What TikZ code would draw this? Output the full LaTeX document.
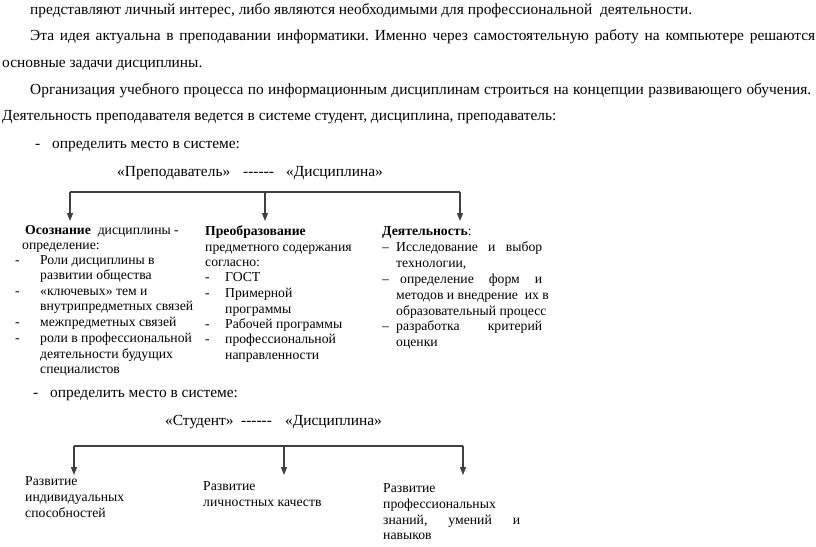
\documentclass[tikz,border=0pt]{standalone}
\usepackage{fontspec}
\setmainfont{Liberation Serif}
\usetikzlibrary{arrows.meta}
\frenchspacing
\begin{document}
\begin{tikzpicture}[x=1pt,y=-1pt,
  main/.style={inner sep=0pt,anchor=mid west,font=\fontsize{15.4}{18}\selectfont},
  small/.style={inner sep=0pt,anchor=mid west,font=\fontsize{13.7}{16}\selectfont},
  conn/.style={draw=black!75,line width=1.1pt},
  arr/.style={conn,-{Triangle[length=8pt,width=6pt]}}]
\useasboundingbox (0,0) rectangle (816,546);
% main text
\node[main] (l1) at (30,12) {представляют личный интерес, либо являются необходимыми для профессиональной\ \ деятельности.};
\node[main] (l2) at (30,38) {\makebox[785pt][s]{Эта идея актуальна в преподавании информатики. Именно через самостоятельную работу на компьютере решаются}};
\node[main] (l3) at (2,65) {основные задачи дисциплины.};
\node[main] (l4) at (30,92) {\makebox[781pt][s]{Организация учебного процесса по информационным дисциплинам строиться на концепции развивающего обучения.}};
\node[main] (l5) at (2,118) {Деятельность преподавателя ведется в системе студент, дисциплина, преподаватель:};
\node[main] (d1) at (35,146) {-};
\node[main] (o1) at (52,146) {определить место в системе:};
\node[main] (h1a) at (117,174) {«Преподаватель»};
\node[main] (h1b) at (243,174) {-{}-{}-{}-{}-{}-};
\node[main] (h1c) at (286,174) {«Дисциплина»};
% top connectors
\coordinate (ta) at (70,192);
\coordinate (tb) at (265,192);
\coordinate (tc) at (460,192);
\coordinate (ea) at (70,221);
\coordinate (eb) at (265,221);
\coordinate (ec) at (460,221);
\draw[conn] (ta) -- (tc);
\draw[arr] (ta) -- (ea);
\draw[arr] (tb) -- (eb);
\draw[arr] (tc) -- (ec);
% box 1
\node[small] (a0) at (25,232) {\textbf{Осознание}\ \ дисциплины -};
\node[small] (a1) at (22,247) {определение:};
\node[small] (ad1) at (15,262) {-};
\node[small] (a2) at (40,262) {Роли дисциплины в};
\node[small] (a3) at (40,277) {развитии общества};
\node[small] (ad2) at (15,293) {-};
\node[small] (a4) at (40,293) {«ключевых» тем и};
\node[small] (a5) at (40,308) {внутрипредметных связей};
\node[small] (ad3) at (15,324) {-};
\node[small] (a6) at (40,324) {межпредметных связей};
\node[small] (ad4) at (15,340) {-};
\node[small] (a7) at (40,340) {роли в профессиональной};
\node[small] (a8) at (40,356) {деятельности будущих};
\node[small] (a9) at (40,371) {специалистов};
% box 2
\node[small] (b0) at (205,233) {\textbf{Преобразование}};
\node[small] (b1) at (205,249) {предметного содержания};
\node[small] (b2) at (205,264) {согласно:};
\node[small] (bd1) at (205,279) {-};
\node[small] (b3) at (225,279) {ГОСТ};
\node[small] (bd2) at (205,295) {-};
\node[small] (b4) at (225,295) {Примерной};
\node[small] (b5) at (225,311) {программы};
\node[small] (bd3) at (205,326) {-};
\node[small] (b6) at (225,326) {Рабочей программы};
\node[small] (bd4) at (205,341) {-};
\node[small] (b7) at (225,341) {профессиональной};
\node[small] (b8) at (225,357) {направленности};
% box 3
\node[small] (c0) at (382,233) {\textbf{Деятельность}:};
\node[small] (cd1) at (382,249) {–};
\node[small] (c1) at (396,249) {\makebox[146pt][s]{Исследование и выбор}};
\node[small] (c2) at (396,265) {технологии,};
\node[small] (cd2) at (382,281) {–};
\node[small] (c3) at (400,281) {\makebox[142pt][s]{определение форм и}};
\node[small] (c4) at (396,297) {методов и внедрение\ \ их в};
\node[small] (c5) at (396,313) {образовательный процесс};
\node[small] (cd3) at (382,328) {–};
\node[small] (c6) at (396,328) {\makebox[146pt][s]{разработка критерий}};
\node[small] (c7) at (396,344) {оценки};
% second part
\node[main] (d2) at (33,395) {-};
\node[main] (o2) at (50,395) {определить место в системе:};
\node[main] (h2a) at (165,423) {«Студент»};
\node[main] (h2b) at (241,423) {-{}-{}-{}-{}-{}-};
\node[main] (h2c) at (285,423) {«Дисциплина»};
\coordinate (sa) at (74,446);
\coordinate (sb) at (284,446);
\coordinate (sc) at (463,446);
\coordinate (fa) at (74,475);
\coordinate (fb) at (284,475);
\coordinate (fc) at (463,475);
\draw[conn] (sa) -- (sc);
\draw[arr] (sa) -- (fa);
\draw[arr] (sb) -- (fb);
\draw[arr] (sc) -- (fc);
\node[small] (p1) at (25,483) {Развитие};
\node[small] (p2) at (25,499) {индивидуальных};
\node[small] (p3) at (25,515) {способностей};
\node[small] (q1) at (203,488) {Развитие};
\node[small] (q2) at (203,504) {личностных качеств};
\node[small] (r1) at (383,490) {Развитие};
\node[small] (r2) at (383,506) {профессиональных};
\node[small] (r3) at (383,522) {\makebox[137pt][s]{знаний, умений и}};
\node[small] (r4) at (383,537) {навыков};
\end{tikzpicture}
\end{document}
